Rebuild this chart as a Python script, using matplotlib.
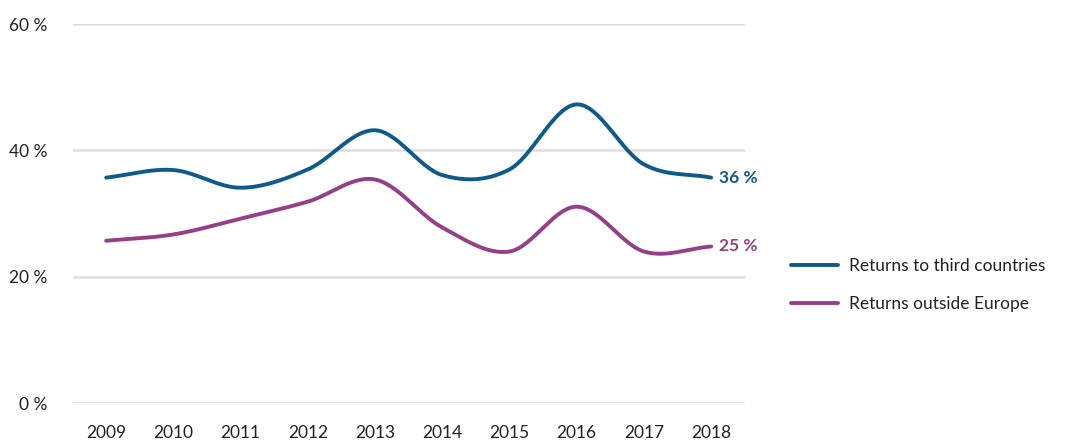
import numpy as np
import matplotlib
matplotlib.use("Agg")
import matplotlib.pyplot as plt
from matplotlib.lines import Line2D

years = ["2009", "2010", "2011", "2012", "2013", "2014", "2015", "2016", "2017", "2018"]
third_countries = [35.7, 36.9, 34.1, 37.0, 43.2, 36.1, 37.0, 47.3, 37.8, 35.7]
outside_europe = [25.7, 26.7, 29.2, 31.9, 35.4, 27.8, 24.0, 31.1, 24.0, 24.8]
end_labels = ["36 %", "25 %"]
series_names = ["Returns to third countries", "Returns outside Europe"]
colors = ["#0e5a8a", "#953f88"]
yticks = [0, 20, 40, 60]

plt.rcParams['font.family'] = ['Lato', 'DejaVu Sans']


def catmull_rom(x, y, n=30):
    x = np.asarray(x, float)
    y = np.asarray(y, float)
    px = np.concatenate([[2 * x[0] - x[1]], x, [2 * x[-1] - x[-2]]])
    py = np.concatenate([[2 * y[0] - y[1]], y, [2 * y[-1] - y[-2]]])
    xs, ys = [], []
    t = np.linspace(0, 1, n, endpoint=False)
    for i in range(1, len(px) - 2):
        p0, p1, p2, p3 = py[i - 1], py[i], py[i + 1], py[i + 2]
        q0, q1, q2, q3 = px[i - 1], px[i], px[i + 1], px[i + 2]
        def f(a0, a1, a2, a3):
            return 0.5 * ((2 * a1) + (-a0 + a2) * t + (2 * a0 - 5 * a1 + 4 * a2 - a3) * t ** 2
                          + (-a0 + 3 * a1 - 3 * a2 + a3) * t ** 3)
        xs.append(f(q0, q1, q2, q3))
        ys.append(f(p0, p1, p2, p3))
    xs.append([x[-1]])
    ys.append([y[-1]])
    return np.concatenate(xs), np.concatenate(ys)


fig = plt.figure(figsize=(10.67, 4.4), dpi=100)
ax = fig.add_axes([0.068, 0.084, 0.63, 0.861])

xpos = np.arange(len(years))
for vals, c, lab in zip([third_countries, outside_europe], colors, end_labels):
    sx, sy = catmull_rom(xpos, vals)
    ax.plot(sx, sy, color=c, lw=2.8, solid_capstyle='round', zorder=3, clip_on=False)
    ax.annotate(lab, (xpos[-1], vals[-1]), xytext=(6, 0), textcoords='offset points',
                va='center', ha='left', color=c, fontsize=12.5, fontweight='bold')

ax.set_xlim(-0.5, len(years) - 0.5)
ax.set_ylim(0, 60)
ax.set_yticks(yticks)
ax.set_yticklabels([f"{v} %" for v in yticks])
ax.set_xticks(xpos)
ax.set_xticklabels(years)
ax.grid(axis='y', color='#dedede', lw=1.8, zorder=0)
for s in ax.spines.values():
    s.set_visible(False)
ax.tick_params(length=0, labelsize=12.5, colors='#222222')
ax.tick_params(axis='y', pad=18)
ax.tick_params(axis='x', pad=16)

handles = [Line2D([0], [0], color=c, lw=2.8, solid_capstyle='round') for c in colors]
fig.legend(handles, series_names, loc='center left', bbox_to_anchor=(0.727, 0.352),
           frameon=False, fontsize=12.5, handlelength=2.7, handletextpad=0.6,
           labelspacing=1.3, labelcolor='#222222')

fig.savefig("out.png", dpi=100)
